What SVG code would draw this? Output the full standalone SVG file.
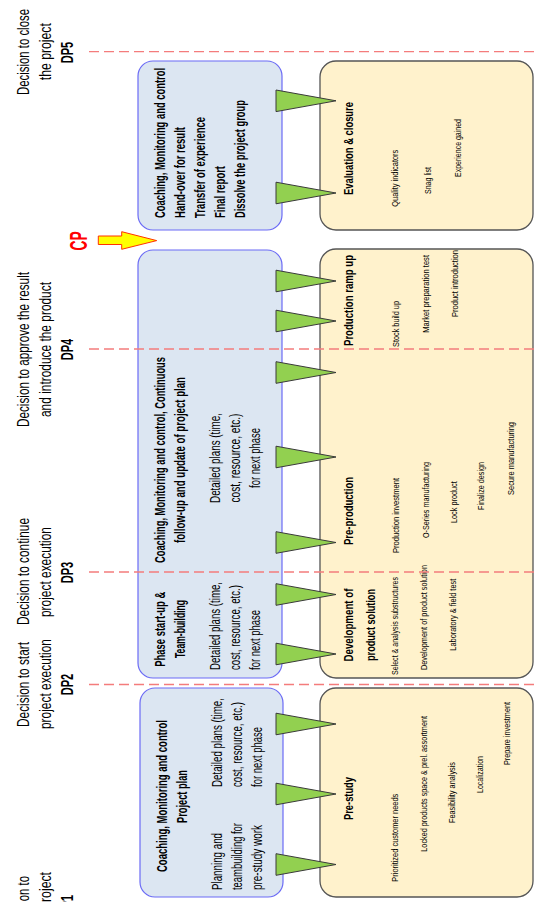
<svg xmlns="http://www.w3.org/2000/svg" width="537" height="902" viewBox="0 0 537 902">
<style>
text{font-family:"Liberation Sans",Arial,sans-serif;fill:#000}
.dp{font-size:16.5px}
.b{font-weight:bold}
.bt{font-size:14px;font-weight:bold}
.bn{font-size:14px}
.yt{font-size:13px;font-weight:bold}
.ys{font-size:9.5px}
.m{text-anchor:middle}
.e{text-anchor:end}
.blue{fill:#DCE6F2;stroke:#6B6BF5;stroke-width:1.2}
.yel{fill:#FFF2CC;stroke:#555;stroke-width:1.3}
.tri{fill:#92D050;stroke:#3A3A3A;stroke-width:1}
.dl{stroke:#F47C7C;stroke-width:1.3;stroke-dasharray:10 5;fill:none}
</style>
<g id="dp-labels">
<g id="dp5">
<text class="dp m" transform="translate(28.5,52) rotate(-90)" textLength="86" lengthAdjust="spacingAndGlyphs">Decision to close</text>
<text class="dp m" transform="translate(51,51.7) rotate(-90)" textLength="57" lengthAdjust="spacingAndGlyphs">the project</text>
<text class="dp m b" transform="translate(73.3,52.5) rotate(-90)" textLength="21.5" lengthAdjust="spacingAndGlyphs">DP5</text>
</g>
<g id="dp4">
<text class="dp m" transform="translate(28.5,349.5) rotate(-90)" textLength="155" lengthAdjust="spacingAndGlyphs">Decision to approve the result</text>
<text class="dp m" transform="translate(51,349.5) rotate(-90)" textLength="135" lengthAdjust="spacingAndGlyphs">and introduce the product</text>
<text class="dp m b" transform="translate(73.3,349.5) rotate(-90)" textLength="21.5" lengthAdjust="spacingAndGlyphs">DP4</text>
</g>
<g id="dp3">
<text class="dp m" transform="translate(28.5,571.5) rotate(-90)" textLength="107" lengthAdjust="spacingAndGlyphs">Decision to continue</text>
<text class="dp m" transform="translate(51,572) rotate(-90)" textLength="90" lengthAdjust="spacingAndGlyphs">project execution</text>
<text class="dp m b" transform="translate(73.3,572.5) rotate(-90)" textLength="21.5" lengthAdjust="spacingAndGlyphs">DP3</text>
</g>
<g id="dp2">
<text class="dp m" transform="translate(28.5,684.5) rotate(-90)" textLength="85" lengthAdjust="spacingAndGlyphs">Decision to start</text>
<text class="dp m" transform="translate(51,684) rotate(-90)" textLength="90" lengthAdjust="spacingAndGlyphs">project execution</text>
<text class="dp m b" transform="translate(73.3,684.5) rotate(-90)" textLength="21.5" lengthAdjust="spacingAndGlyphs">DP2</text>
</g>
<g id="dp1">
<text class="dp e" transform="translate(28.5,876) rotate(-90)" textLength="56" lengthAdjust="spacingAndGlyphs">Decision to</text>
<text class="dp e" transform="translate(51,872) rotate(-90)" textLength="64" lengthAdjust="spacingAndGlyphs">start project</text>
<text class="dp e b" transform="translate(73.3,895) rotate(-90)" textLength="22" lengthAdjust="spacingAndGlyphs">DP1</text>
</g>
</g>
<g id="cp">
<text class="b m" style="font-size:24px;fill:#FF0000" transform="translate(87,241) rotate(-90)" textLength="19" lengthAdjust="spacingAndGlyphs">CP</text>
<polygon points="98.3,236 121.7,236 121.7,231.7 156.7,240.6 121.7,249.3 121.7,244.5 98.3,244.5" fill="#FFFF00" stroke="#FF3300" stroke-width="1"/>
</g>
<g id="mgmt-closure">
<rect class="blue" x="138" y="61" width="144" height="169" rx="15"/>
<text class="bt" transform="translate(165,218) rotate(-90)" textLength="150" lengthAdjust="spacingAndGlyphs">Coaching, Monitoring and control</text>
<text class="bt" transform="translate(185,218) rotate(-90)" textLength="91" lengthAdjust="spacingAndGlyphs">Hand-over for result</text>
<text class="bt" transform="translate(205,218) rotate(-90)" textLength="101" lengthAdjust="spacingAndGlyphs">Transfer of experience</text>
<text class="bt" transform="translate(225,218) rotate(-90)" textLength="52" lengthAdjust="spacingAndGlyphs">Final report</text>
<text class="bt" transform="translate(245,218) rotate(-90)" textLength="118" lengthAdjust="spacingAndGlyphs">Dissolve the project group</text>
</g>
<g id="mgmt-execution">
<rect class="blue" x="138" y="250" width="144" height="428" rx="15"/>
<text class="bt m" transform="translate(165,460) rotate(-90)" textLength="206" lengthAdjust="spacingAndGlyphs">Coaching, Monitoring and control, Continuous</text>
<text class="bt m" transform="translate(185,460) rotate(-90)" textLength="166" lengthAdjust="spacingAndGlyphs">follow-up and update of project plan</text>
<text class="bn m" transform="translate(220,458) rotate(-90)" textLength="90" lengthAdjust="spacingAndGlyphs">Detailed plans (time,</text>
<text class="bn m" transform="translate(240,458) rotate(-90)" textLength="89" lengthAdjust="spacingAndGlyphs">cost, resource, etc.)</text>
<text class="bn m" transform="translate(260,458) rotate(-90)" textLength="60" lengthAdjust="spacingAndGlyphs">for next phase</text>
<text class="bt m" transform="translate(165,629.2) rotate(-90)" textLength="75" lengthAdjust="spacingAndGlyphs">Phase start-up &amp;</text>
<text class="bt m" transform="translate(185,629) rotate(-90)" textLength="58" lengthAdjust="spacingAndGlyphs">Team-building</text>
<text class="bn" transform="translate(220,670) rotate(-90)" textLength="88" lengthAdjust="spacingAndGlyphs">Detailed plans (time,</text>
<text class="bn" transform="translate(240,670) rotate(-90)" textLength="85" lengthAdjust="spacingAndGlyphs">cost, resource, etc.)</text>
<text class="bn" transform="translate(260,670) rotate(-90)" textLength="60" lengthAdjust="spacingAndGlyphs">for next phase</text>
</g>
<g id="mgmt-prestudy">
<rect class="blue" x="140" y="688" width="143" height="209" rx="15"/>
<text class="bt m" transform="translate(167,796) rotate(-90)" textLength="152" lengthAdjust="spacingAndGlyphs">Coaching, Monitoring and control</text>
<text class="bt m" transform="translate(187,796.5) rotate(-90)" textLength="53" lengthAdjust="spacingAndGlyphs">Project plan</text>
<text class="bn" transform="translate(222,890) rotate(-90)" textLength="57" lengthAdjust="spacingAndGlyphs">Planning and</text>
<text class="bn" transform="translate(242,890) rotate(-90)" textLength="67" lengthAdjust="spacingAndGlyphs">teambuilding for</text>
<text class="bn" transform="translate(262,890) rotate(-90)" textLength="65" lengthAdjust="spacingAndGlyphs">pre-study work</text>
<text class="bn" transform="translate(222,787) rotate(-90)" textLength="89" lengthAdjust="spacingAndGlyphs">Detailed plans (time,</text>
<text class="bn" transform="translate(242,787) rotate(-90)" textLength="85" lengthAdjust="spacingAndGlyphs">cost, resource, etc.)</text>
<text class="bn" transform="translate(262,787) rotate(-90)" textLength="60" lengthAdjust="spacingAndGlyphs">for next phase</text>
</g>
<g id="evaluation-closure">
<rect class="yel" x="320" y="61" width="213" height="169" rx="16"/>
<text class="yt" transform="translate(353,195) rotate(-90)" textLength="93" lengthAdjust="spacingAndGlyphs">Evaluation &amp; closure</text>
<text class="ys" transform="translate(398,206.7) rotate(-90)" textLength="57" lengthAdjust="spacingAndGlyphs">Quality indicators</text>
<text class="ys" transform="translate(431,194) rotate(-90)" textLength="27" lengthAdjust="spacingAndGlyphs">Snag list</text>
<text class="ys" transform="translate(461,177) rotate(-90)" textLength="58" lengthAdjust="spacingAndGlyphs">Experience gained</text>
</g>
<g id="product-execution">
<rect class="yel" x="320" y="249" width="213" height="429" rx="16"/>
<text class="yt" transform="translate(353,346) rotate(-90)" textLength="91" lengthAdjust="spacingAndGlyphs">Production ramp up</text>
<text class="ys" transform="translate(399,347) rotate(-90)" textLength="46" lengthAdjust="spacingAndGlyphs">Stock build up</text>
<text class="ys" transform="translate(428.5,332.7) rotate(-90)" textLength="77.7" lengthAdjust="spacingAndGlyphs">Market preparation test</text>
<text class="ys" transform="translate(458,317) rotate(-90)" textLength="67" lengthAdjust="spacingAndGlyphs">Product introduction</text>
<text class="yt" transform="translate(353,545) rotate(-90)" textLength="68" lengthAdjust="spacingAndGlyphs">Pre-production</text>
<text class="ys" transform="translate(399,553) rotate(-90)" textLength="75" lengthAdjust="spacingAndGlyphs">Production investment</text>
<text class="ys" transform="translate(429,538) rotate(-90)" textLength="76" lengthAdjust="spacingAndGlyphs">O-Series manufacturing</text>
<text class="ys" transform="translate(457,523) rotate(-90)" textLength="41.7" lengthAdjust="spacingAndGlyphs">Lock product</text>
<text class="ys" transform="translate(484,510) rotate(-90)" textLength="48" lengthAdjust="spacingAndGlyphs">Finalize design</text>
<text class="ys" transform="translate(514,495) rotate(-90)" textLength="73" lengthAdjust="spacingAndGlyphs">Secure manufacturing</text>
<text class="yt m" transform="translate(353,625) rotate(-90)" textLength="73" lengthAdjust="spacingAndGlyphs">Development of</text>
<text class="yt m" transform="translate(374.5,625) rotate(-90)" textLength="72" lengthAdjust="spacingAndGlyphs">product solution</text>
<text class="ys" transform="translate(398,675) rotate(-90)" textLength="98" lengthAdjust="spacingAndGlyphs">Select &amp; analysis substructures</text>
<text class="ys" transform="translate(427,670) rotate(-90)" textLength="105" lengthAdjust="spacingAndGlyphs">Development of product solution</text>
<text class="ys" transform="translate(456,650.7) rotate(-90)" textLength="72" lengthAdjust="spacingAndGlyphs">Laboratory &amp; field test</text>
</g>
<g id="pre-study">
<rect class="yel" x="320" y="688" width="213" height="209" rx="16"/>
<text class="yt" transform="translate(353,820) rotate(-90)" textLength="43" lengthAdjust="spacingAndGlyphs">Pre-study</text>
<text class="ys" transform="translate(398,881.7) rotate(-90)" textLength="88" lengthAdjust="spacingAndGlyphs">Prioritized customer needs</text>
<text class="ys" transform="translate(427,851.7) rotate(-90)" textLength="135.7" lengthAdjust="spacingAndGlyphs">Locked products space &amp; prel. assortment</text>
<text class="ys" transform="translate(455,823) rotate(-90)" textLength="61" lengthAdjust="spacingAndGlyphs">Feasibility analysis</text>
<text class="ys" transform="translate(483,793) rotate(-90)" textLength="37" lengthAdjust="spacingAndGlyphs">Localization</text>
<text class="ys" transform="translate(510,765) rotate(-90)" textLength="63" lengthAdjust="spacingAndGlyphs">Prepare investment</text>
</g>
<g id="connectors">
<polygon class="tri" points="276,90 336,100.8 276,111.6"/>
<polygon class="tri" points="276,182.2 336,193 276,203.8"/>
<polygon class="tri" points="276,270.2 336,281 276,291.8"/>
<polygon class="tri" points="276,310.2 336,321 276,331.8"/>
<polygon class="tri" points="276,361.7 336,372.5 276,383.3"/>
<polygon class="tri" points="276,446.2 336,457 276,467.8"/>
<polygon class="tri" points="276,531.7 336,542.5 276,553.3"/>
<polygon class="tri" points="276,583.7 336,594.5 276,605.3"/>
<polygon class="tri" points="276,643.2 336,654 276,664.8"/>
<polygon class="tri" points="276,713.2 336,724 276,734.8"/>
<polygon class="tri" points="276,783.2 336,794 276,804.8"/>
<polygon class="tri" points="276,853.7 336,864.5 276,875.3"/>
</g>
<g id="decision-lines">
<line class="dl" x1="89" y1="51.7" x2="537" y2="51.7"/>
<line class="dl" x1="89" y1="349" x2="537" y2="349"/>
<line class="dl" x1="89" y1="572" x2="537" y2="572"/>
<line class="dl" x1="89" y1="684.5" x2="537" y2="684.5"/>
</g>
</svg>
